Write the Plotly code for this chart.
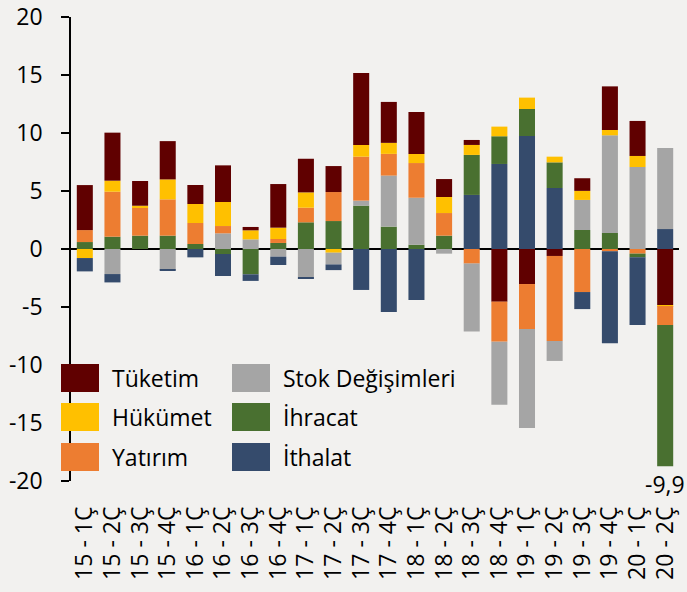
import plotly.graph_objects as go

quarters = ["15 - 1Ç", "15 - 2Ç", "15 - 3Ç", "15 - 4Ç", "16 - 1Ç", "16 - 2Ç", "16 - 3Ç", "16 - 4Ç",
            "17 - 1Ç", "17 - 2Ç", "17 - 3Ç", "17 - 4Ç", "18 - 1Ç", "18 - 2Ç", "18 - 3Ç", "18 - 4Ç",
            "19 - 1Ç", "19 - 2Ç", "19 - 3Ç", "19 - 4Ç", "20 - 1Ç", "20 - 2Ç"]

tuketim = [3.88, 4.14, 2.13, 3.30, 1.64, 3.16, 0.29, 3.76, 2.90, 2.24, 6.21, 3.53,
           3.62, 1.55, 0.43, -4.54, -3.02, -0.60, 1.09, 3.76, 3.02, -4.83]
hukumet = [-0.78, 0.95, 0.17, 1.72, 1.64, 2.07, 0.78, 0.98, 1.32, -0.32, 1.01, 0.95,
           0.78, 1.38, 0.86, 0.83, 0.98, 0.49, 0.78, 0.46, 0.95, -0.09]
yatirim = [1.03, 3.88, 2.41, 3.13, 1.81, 0.63, 0.0, 0.34, 1.26, 2.50, 3.79, 1.87,
           2.99, 1.95, -1.26, -3.45, -3.88, -7.33, -3.71, -0.20, -0.40, -1.64]
stok = [0.0, -2.16, 0.0, -1.78, 0.0, 1.35, 0.83, -0.66, -2.43, -1.01, 0.43, 4.40,
        4.05, -0.40, -5.86, -5.43, -8.53, -1.72, 2.59, 8.42, 7.07, 6.98]
ihracat = [0.60, 1.06, 1.15, 1.15, 0.43, -0.43, -2.18, 0.52, 2.30, 2.41, 3.74, 1.93,
           0.37, 1.15, 3.45, 2.39, 2.33, 2.21, 1.64, 1.38, -0.32, -12.16]
ithalat = [-1.15, -0.72, 0.0, -0.10, -0.72, -1.90, -0.57, -0.72, -0.10, -0.49, -3.53, -5.43,
           -4.40, 0.0, 4.66, 7.33, 9.74, 5.26, -1.47, -7.93, -5.83, 1.72]

series_names = ["Tüketim", "Hükümet", "Yatırım", "Stok Değişimleri", "İhracat", "İthalat"]
series_values = [tuketim, hukumet, yatirim, stok, ihracat, ithalat]
series_colors = ["#600000", "#FFC000", "#ED7D31", "#A5A5A5", "#497030", "#354B6C"]

y_ticks = [-20, -15, -10, -5, 0, 5, 10, 15, 20]
y_tick_labels = ["-20", "-15", "-10", "-5", "0", "5", "10", "15", "20"]

gdp_label = "-9,9"
gdp_label_quarter = "20 - 2Ç"

FONT = "Open Sans"
BG = "#F2F1EF"

fig = go.Figure()

# positive parts: stacked upward from zero in reverse legend order
for name, vals, col in reversed(list(zip(series_names, series_values, series_colors))):
    fig.add_trace(go.Bar(x=quarters, y=[v if v > 0 else None for v in vals], name=name,
                         marker=dict(color=col, line=dict(width=0)), showlegend=False))
# negative parts: stacked downward from zero in legend order
for name, vals, col in zip(series_names, series_values, series_colors):
    fig.add_trace(go.Bar(x=quarters, y=[v if v < 0 else None for v in vals], name=name,
                         marker=dict(color=col, line=dict(width=0)), showlegend=False))

# plot area geometry (pixels)
L, R, T, B = 71, 8, 17, 111
W, H = 687, 592
PW, PH = W - L - R, H - T - B


def px_x(px):
    return (px - L) / PW


def px_y(py):
    return (H - B - py) / PH


# custom legend (large swatches)
col_x = [61, 232]
row_y = [364, 403, 443]
for i, (name, col) in enumerate(zip(series_names, series_colors)):
    c, r = divmod(i, 3)
    x0, y0 = col_x[c], row_y[r]
    fig.add_shape(type="rect", xref="paper", yref="paper",
                  x0=px_x(x0), x1=px_x(x0 + 38), y0=px_y(y0 + 28), y1=px_y(y0),
                  fillcolor=col, line=dict(width=0), layer="above")
    fig.add_annotation(xref="paper", yref="paper", x=px_x(x0 + 49), y=px_y(y0 + 14),
                       text=name, showarrow=False, xanchor="left", yanchor="middle",
                       font=dict(family=FONT, size=23, color="black"))

# GDP label under the last bar
idx = quarters.index(gdp_label_quarter)
neg_total = sum(v[idx] for v in series_values if v[idx] < 0)
fig.add_annotation(x=gdp_label_quarter, y=neg_total, text=gdp_label, showarrow=False,
                   xanchor="center", yanchor="top", yshift=0,
                   font=dict(family=FONT, size=23, color="black"))

fig.update_layout(
    width=W, height=H,
    margin=dict(l=L, r=R, t=T, b=B, pad=0, autoexpand=False),
    barmode="relative",
    bargap=0.42,
    paper_bgcolor=BG, plot_bgcolor=BG,
    font=dict(family=FONT, size=23, color="black"),
    showlegend=False,
)
fig.update_xaxes(type="category", range=[-0.5, len(quarters) - 0.5], showline=False,
                 tickmode="array", tickvals=quarters, ticktext=quarters, automargin=False,
                 showgrid=False, zeroline=False, ticks="", tickangle=-90,
                 ticklabelstandoff=20, tickfont=dict(family=FONT, size=23, color="black"))
fig.update_yaxes(range=[-20, 20], tickmode="array", tickvals=y_ticks, ticktext=y_tick_labels,
                 automargin=False,
                 showgrid=False, showline=True, linecolor="black", linewidth=1.5,
                 ticks="outside", ticklen=8, tickwidth=1.5, tickcolor="black",
                 zeroline=True, zerolinecolor="black", zerolinewidth=2,
                 ticklabelstandoff=14, tickfont=dict(family=FONT, size=23, color="black"))

fig.write_html("out.html", config={"displayModeBar": False},
               post_script="document.body.style.margin='0px';document.body.style.padding='0px';"
                           "document.body.style.background='" + BG + "';")
